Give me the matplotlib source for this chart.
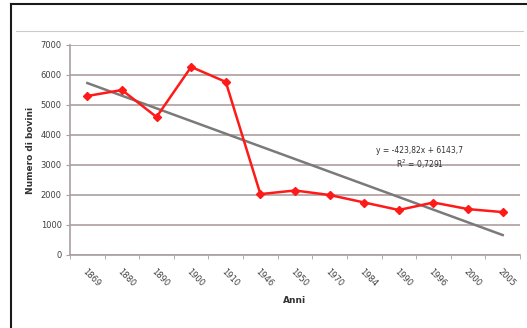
import numpy as np
import matplotlib.pyplot as plt
from matplotlib.lines import Line2D

anni = ["1869", "1880", "1890", "1900", "1910", "1946", "1950", "1970",
        "1984", "1990", "1996", "2000", "2005"]
bovini = [5300, 5500, 4600, 6270, 5770, 2030, 2150, 2000, 1750, 1500, 1750, 1530, 1430]
equazione = "y = -423,82x + 6143,7"
r_quadro = "R$^2$ = 0,7291"

x = np.arange(len(anni))
coef = np.polyfit(x + 1, bovini, 1)
trend = np.polyval(coef, x + 1)

fig = plt.figure(figsize=(5.27, 3.28), dpi=100)
ax = fig.add_axes([70 / 527, 1 - 255 / 328, 450 / 527, 210 / 328])

ax.plot(x, trend, color="#7a7a7a", linewidth=1.8, zorder=2)
ax.plot(x, bovini, color="#ff1a1a", linewidth=1.8, marker="D", markersize=4.5, zorder=3)

ax.set_xlim(-0.5, len(anni) - 0.5)
ax.set_ylim(0, 7000)
ax.set_yticks(range(0, 7001, 1000))
ax.set_yticklabels([str(v) for v in range(0, 7001, 1000)], fontsize=6, color="#404040")
ax.set_xticks(x)
ax.set_xticklabels(anni, fontsize=6, color="#404040", rotation=-45, ha="left",
                   rotation_mode="anchor")
ax.set_xticks(np.arange(-0.5, len(anni)), minor=True)
ax.tick_params(axis="x", which="major", length=0, pad=9)
ax.tick_params(axis="x", which="minor", length=3, color="#a89f9f")
ax.tick_params(axis="y", length=3, color="#a89f9f", pad=3)

ax.grid(axis="y", color="#b3a6a6", linewidth=1.3)
ax.set_axisbelow(True)
for s in ["top", "right"]:
    ax.spines[s].set_visible(False)
ax.spines["left"].set_color("#a89f9f")
ax.spines["bottom"].set_color("#a89f9f")
ax.spines["left"].set_linewidth(1.2)
ax.spines["bottom"].set_linewidth(1.2)

ax.set_xlabel("Anni", fontsize=6.5, fontweight="bold", color="#333333", labelpad=5)
ax.set_ylabel("Numero di bovini", fontsize=6.5, fontweight="bold", color="#333333", labelpad=4)

ax.text(9.6, 3470, equazione, fontsize=5.5, color="#333333", ha="center", va="center")
ax.text(9.6, 3030, r_quadro, fontsize=5.5, color="#333333", ha="center", va="center")

# frame lines
fig.add_artist(Line2D([11 / 527, 1], [1 - 4 / 328, 1 - 4 / 328], color="#1a1a1a", linewidth=1.5,
                      transform=fig.transFigure))
fig.add_artist(Line2D([11 / 527, 11 / 527], [1 - 4 / 328, 0], color="#1a1a1a", linewidth=1.5,
                      transform=fig.transFigure))
fig.add_artist(Line2D([16 / 527, 523 / 527], [1 - 31 / 328, 1 - 31 / 328], color="#cfcaca",
                      linewidth=0.8, transform=fig.transFigure))

fig.savefig("out.png", dpi=100)
